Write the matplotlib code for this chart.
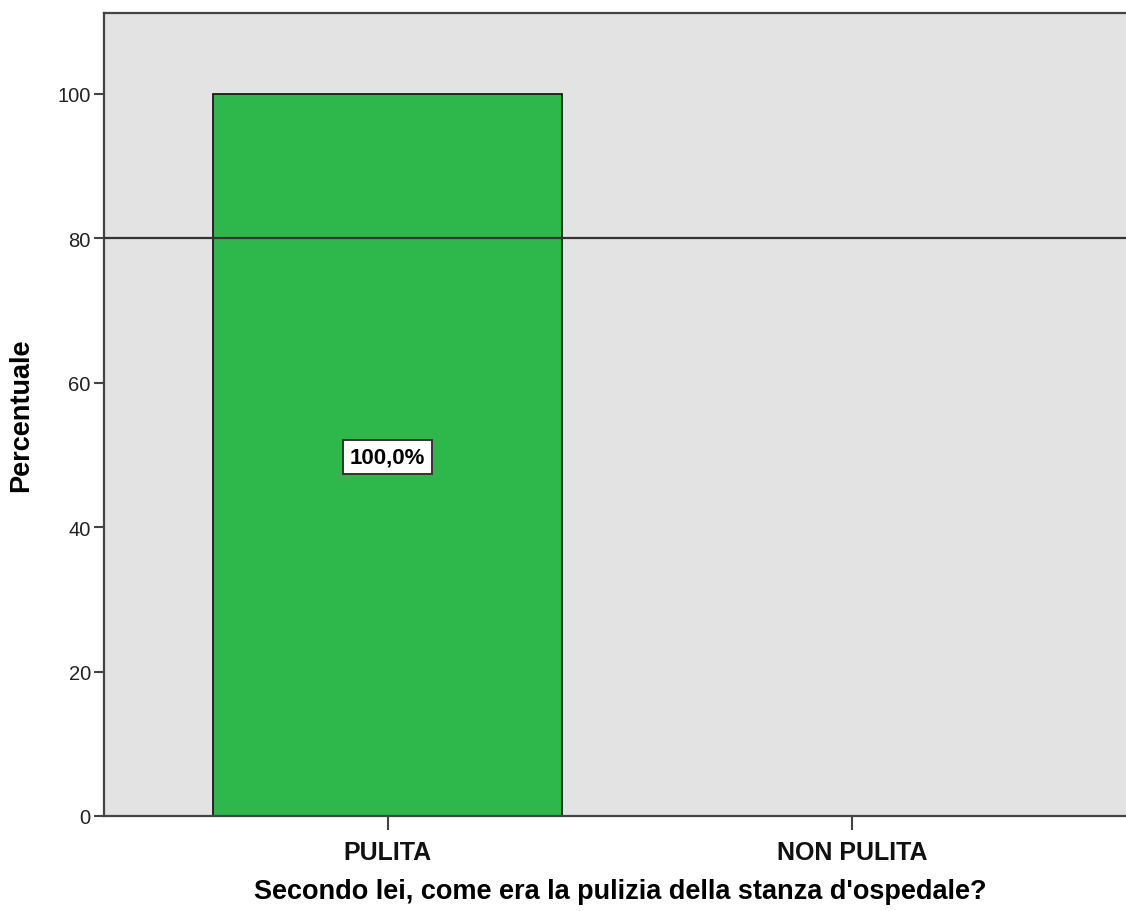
import matplotlib
matplotlib.use("Agg")
import matplotlib.pyplot as plt

plt.rcParams["font.family"] = ["Liberation Sans", "DejaVu Sans"]

# data
categories = ["PULITA", "NON PULITA"]
percentages = [100.0, 0.0]
bar_labels = ["100,0%", None]
reference_value = 80
y_ticks = [0, 20, 40, 60, 80, 100]

fig = plt.figure(figsize=(11.26, 9.12), dpi=100, facecolor="white")
# axes run slightly past the right edge, as in the cropped original
ax = fig.add_axes([104 / 1126, 95 / 912, 1032 / 1126, 803 / 912])
ax.set_facecolor("#e3e3e3")

pos = list(range(len(categories)))
ax.bar(pos, percentages, width=0.749, color="#2eb84b", edgecolor="#1a1a1a",
       linewidth=1.3, zorder=2)
ax.axhline(reference_value, color="#333333", lw=1.6, zorder=3)

for x, v, lab in zip(pos, percentages, bar_labels):
    if lab:
        ax.text(x, v / 2 - 0.3, lab, ha="center", va="center", fontsize=16,
                fontweight="bold", zorder=4,
                bbox=dict(boxstyle="square,pad=0.3", fc="white", ec="#333333", lw=1.4))

ax.set_xlim(-0.61, 1.61)
ax.set_ylim(0, 111.2)
ax.set_yticks(y_ticks)
ax.set_yticklabels([str(t) for t in y_ticks], fontsize=14.5, color="#222222")
ax.set_xticks(pos)
ax.set_xticklabels(categories, fontsize=18, fontweight="bold", color="#111111")
ax.tick_params(axis="y", direction="out", length=7.5, width=1.5, color="#444444", pad=2)
ax.tick_params(axis="x", direction="out", length=10, width=1.5, color="#444444", pad=7.5)

for side in ["left", "top", "bottom", "right"]:
    ax.spines[side].set_color("#444444")
    ax.spines[side].set_linewidth(1.6)

ax.set_ylabel("Percentuale", fontsize=19.5, fontweight="bold", labelpad=17)
ax.set_xlabel("Secondo lei, come era la pulizia della stanza d'ospedale?",
              fontsize=19.5, fontweight="bold", labelpad=10)

fig.savefig("out.png", dpi=100, facecolor="white")
